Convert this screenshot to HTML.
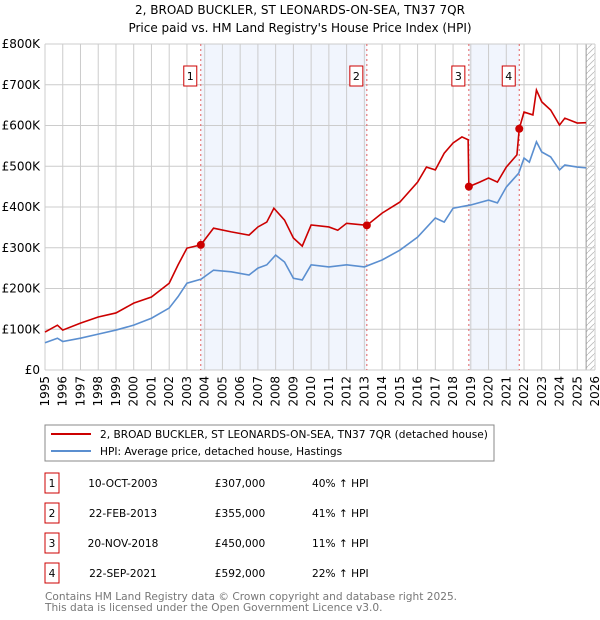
<!DOCTYPE html>
<html><head><meta charset="utf-8"><style>
body{margin:0;background:#fff;font-family:"DejaVu Sans","Liberation Sans",sans-serif;}
svg{display:block}
</style></head><body>
<svg id="chart" width="600" height="620" viewBox="0 0 600 620" font-family="DejaVu Sans, Liberation Sans, sans-serif">
<text x="300" y="14" text-anchor="middle" font-size="12">2, BROAD BUCKLER, ST LEONARDS-ON-SEA, TN37 7QR</text>
<text x="300" y="32" text-anchor="middle" font-size="12">Price paid vs. HM Land Registry's House Price Index (HPI)</text>
<g id="plot"></g>
<g>
<rect x="45" y="425" width="449" height="36" fill="#fff" stroke="#888"/>
<line x1="51" y1="434" x2="91" y2="434" stroke="#cc0000" stroke-width="2"/>
<text x="100" y="438" font-size="10.6">2, BROAD BUCKLER, ST LEONARDS-ON-SEA, TN37 7QR (detached house)</text>
<line x1="51" y1="451" x2="91" y2="451" stroke="#5b8fd0" stroke-width="2"/>
<text x="100" y="455" font-size="10.6">HPI: Average price, detached house, Hastings</text>
</g>
<g id="table" font-size="10.6"></g>
<text x="45" y="600" font-size="10.6" fill="#777">Contains HM Land Registry data © Crown copyright and database right 2025.</text>
<text x="45" y="611" font-size="10.6" fill="#777">This data is licensed under the Open Government Licence v3.0.</text>
</svg>
<script>
const hpiYears=[1995,1995.7,1996,1997,1998,1999,2000,2001,2002,2002.5,2003,2003.8,2004.5,2005.5,2006.5,2007,2007.5,2008,2008.5,2009,2009.5,2010,2011,2012,2013,2014,2015,2016,2017,2017.5,2018,2019,2020,2020.5,2021,2021.7,2022,2022.3,2022.7,2023,2023.5,2024,2024.3,2025,2025.5];
const hpiValues=[67,78,70,78,88,98,110,127,152,180,213,223,245,241,233,250,258,282,265,225,221,258,253,258,253,270,294,326,373,363,397,405,417,410,449,483,520,510,560,535,523,491,503,498,496];
const redYears=[1995,1995.7,1996,1997,1998,1999,2000,2001,2002,2002.5,2003,2003.78,2004.5,2005.5,2006.5,2007,2007.5,2007.9,2008.5,2009,2009.5,2010,2011,2011.5,2012,2013.14,2014,2015,2016,2016.5,2017,2017.5,2018,2018.5,2018.85,2018.89,2019.5,2020,2020.5,2021,2021.6,2021.73,2022,2022.5,2022.7,2023,2023.5,2024,2024.3,2025,2025.5];
const redValues=[93,110,98,115,130,140,164,179,213,258,299,307,348,339,331,351,363,397,368,324,304,356,351,343,360,355,385,412,461,498,491,532,557,572,565,450,461,471,461,498,528,592,633,626,687,658,638,601,618,606,607];
const saleLabels=["1","2","3","4"];
const saleYears=[2003.78,2013.14,2018.89,2021.73];
const saleValues=[307,355,450,592];
const saleDates=["10-OCT-2003","22-FEB-2013","20-NOV-2018","22-SEP-2021"];
const salePrices=["£307,000","£355,000","£450,000","£592,000"];
const saleHpi=["40% ↑ HPI","41% ↑ HPI","11% ↑ HPI","22% ↑ HPI"];
const yTicks=[0,100,200,300,400,500,600,700,800];
const yTickLabels=["£0","£100K","£200K","£300K","£400K","£500K","£600K","£700K","£800K"];
const xTicks=[];for(let y=1995;y<=2026;y++)xTicks.push(y);

const L=45,R=595,T=44,B=370,X0=1995,X1=2026;
const xs=v=>L+(v-X0)/(X1-X0)*(R-L);
const ys=v=>B-v/800*(B-T);
const NS="http://www.w3.org/2000/svg";
const plot=document.getElementById('plot');
function mk(tag,attrs,parent){const e=document.createElementNS(NS,tag);for(const k in attrs)e.setAttribute(k,attrs[k]);(parent||plot).appendChild(e);return e;}

let s=mk('rect',{x:xs(saleYears[0]),y:T,width:xs(saleYears[1])-xs(saleYears[0]),height:B-T,fill:'#eef3fc',opacity:0.8});


s=mk('rect',{x:xs(saleYears[2]),y:T,width:xs(saleYears[3])-xs(saleYears[2]),height:B-T,fill:'#eef3fc',opacity:0.8});


const defs=mk('defs',{});
const pat=mk('pattern',{id:'hatch',width:6,height:6,patternUnits:'userSpaceOnUse'},defs);
mk('path',{d:'M0 6 L6 0',stroke:'#bbb','stroke-width':0.8},pat);
s=mk('rect',{x:xs(2025.5),y:T,width:R-xs(2025.5),height:B-T,fill:'url(#hatch)'});


mk('line',{x1:xs(2025.5),y1:T,x2:xs(2025.5),y2:B,stroke:'#999','stroke-width':1});
xTicks.forEach(t=>{
 const g=mk('line',{x1:xs(t),y1:T,x2:xs(t),y2:B,stroke:'#ccc','stroke-width':1});
 
 
 const tx=mk('text',{x:0,y:0,'font-size':12,'text-anchor':'end',transform:`translate(${xs(t)+4},${B+6}) rotate(-90)`});
 tx.textContent=t;
 
 
});
yTicks.forEach((t,i)=>{
 const g=mk('line',{x1:L,y1:ys(t),x2:R,y2:ys(t),stroke:'#ccc','stroke-width':1});
 
 
 const tx=mk('text',{x:L-5,y:ys(t)+4,'font-size':12,'text-anchor':'end'});
 tx.textContent=yTickLabels[i];
 
 
});
saleYears.forEach((y,i)=>{
 const d=mk('line',{x1:xs(y),y1:T,x2:xs(y),y2:B,stroke:'#e06060','stroke-width':1,'stroke-dasharray':'2,3'});
 
 
 const bx=mk('rect',{x:xs(y)-17,y:66,width:13,height:20,fill:'#fff',stroke:'#cc0000','stroke-width':1});
 
 
 const t=mk('text',{x:xs(y)-10.5,y:80,'font-size':11,'text-anchor':'middle'});
 t.textContent=saleLabels[i];
 
 
});
const hp=mk('polyline',{points:hpiYears.map((y,i)=>xs(y)+','+ys(hpiValues[i])).join(' '),fill:'none',stroke:'#5b8fd0','stroke-width':1.6});


const rl=mk('polyline',{points:redYears.map((y,i)=>xs(y)+','+ys(redValues[i])).join(' '),fill:'none',stroke:'#cc0000','stroke-width':1.6});


saleYears.forEach((y,i)=>{
 const c=mk('circle',{cx:xs(y),cy:ys(saleValues[i]),r:4,fill:'#cc0000'});
 
 
});
const tb=document.getElementById('table');
saleLabels.forEach((l,i)=>{
 const cy=483+i*30;
 const r=mk('rect',{x:45,y:cy-10,width:14,height:20,fill:'#fff',stroke:'#cc0000'},tb);
 
 
 const a=mk('text',{x:52,y:cy+4,'text-anchor':'middle'},tb);a.textContent=l;
 
 
 const b=mk('text',{x:123,y:cy+4,'text-anchor':'middle'},tb);b.textContent=saleDates[i];
 
 
 const c=mk('text',{x:240,y:cy+4,'text-anchor':'middle'},tb);c.textContent=salePrices[i];
 
 
 const d=mk('text',{x:312,y:cy+4},tb);d.textContent=saleHpi[i];
 
 
});
</script>
</body></html>
